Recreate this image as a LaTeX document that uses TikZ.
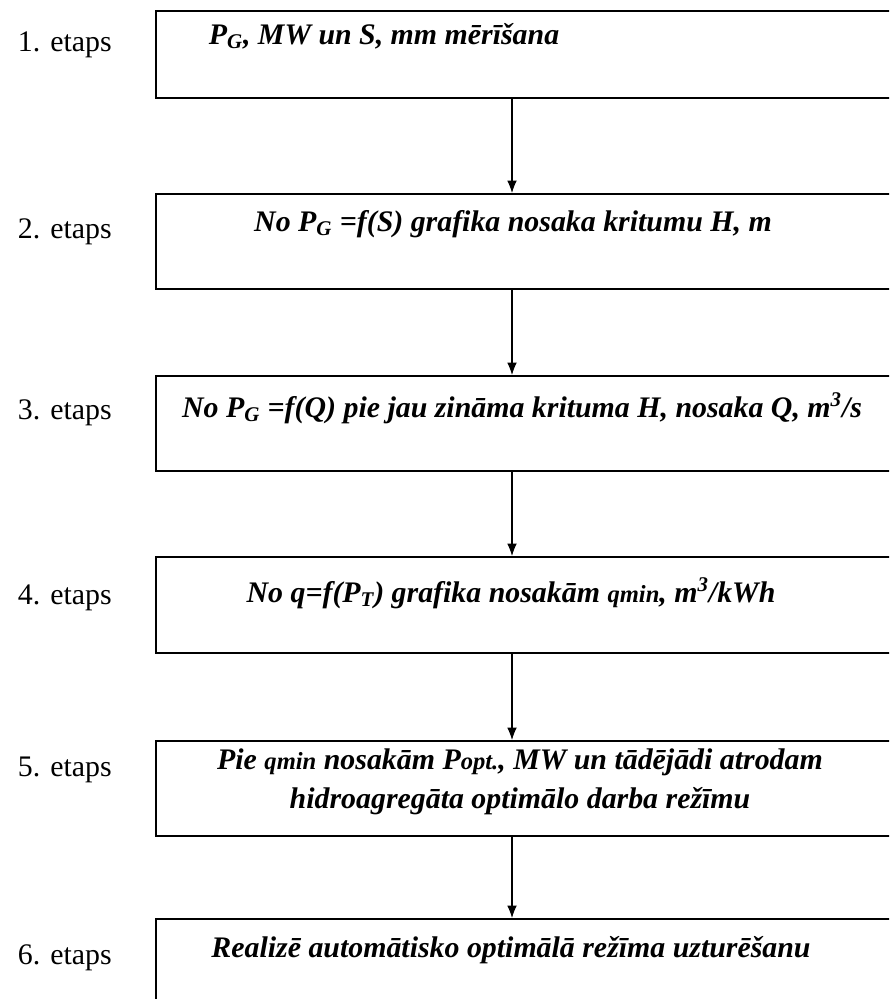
\documentclass[tikz,border=0pt]{standalone}
\usepackage{fontspec}
\setmainfont{Liberation Serif}
\usetikzlibrary{arrows.meta}

\newcommand{\minitext}[1]{{\fontsize{14}{17}\selectfont #1}}

\tikzset{
	stage/.style={draw, line width=1.1pt, anchor=north west, minimum width=15cm, inner sep=0pt},
	stagetext/.style={font=\fontsize{17}{22}\selectfont\bfseries\itshape, align=center, inner sep=0pt},
	steplabel/.style={font=\fontsize{17}{21}\selectfont, anchor=east, inner sep=0pt},
	flow/.style={line width=0.6pt, -{Latex[length=7pt,width=5.5pt]}}
}

\begin{document}
\begin{tikzpicture}[x=0.02cm, y=-0.02cm]
		\useasboundingbox (0, 0) rectangle (889, 999);
		\clip (0, 0) rectangle (889, 999);

		% axe des fleches
		\coordinate (axis) at (512, 0);

		% 1. etaps
		\node[stage, minimum height=1.74cm] (b1) at (155, 10) {};
		\node[stagetext] (t1) at (384, 36) {P\textsubscript{G}, MW un S, mm mērīšana};
		\node[steplabel] (l1) at (112, 45) {1. etaps};

		% 2. etaps
		\node[stage, minimum height=1.9cm] (b2) at (155, 193) {};
		\node[stagetext] (t2) at (513, 224) {No P\textsubscript{G} =f(S) grafika nosaka kritumu H, m};
		\node[steplabel] (l2) at (112, 232) {2. etaps};

		% 3. etaps
		\node[stage, minimum height=1.9cm] (b3) at (155, 375) {};
		\node[stagetext] (t3) at (522, 408) {No P\textsubscript{G} =f(Q) pie jau zināma krituma H, nosaka Q, m\textsuperscript{3}/s};
		\node[steplabel] (l3) at (112, 413) {3. etaps};

		% 4. etaps
		\node[stage, minimum height=1.92cm] (b4) at (155, 556) {};
		\node[stagetext] (t4) at (511, 593) {No q=f(P\textsubscript{T}) grafika nosakām \minitext{qmin}, m\textsuperscript{3}/kWh};
		\node[steplabel] (l4) at (112, 598) {4. etaps};

		% 5. etaps
		\node[stage, minimum height=1.9cm] (b5) at (155, 740) {};
		\node[stagetext] (t5) at (520, 782) {Pie \minitext{qmin} nosakām P\minitext{opt.}, MW un tādējādi atrodam\\hidroagregāta optimālo darba režīmu};
		\node[steplabel] (l5) at (112, 770) {5. etaps};

		% 6. etaps
		\node[stage, minimum height=2cm] (b6) at (155, 918) {};
		\node[stagetext] (t6) at (511, 950) {Realizē automātisko optimālā režīma uzturēšanu};
		\node[steplabel] (l6) at (112, 958) {6. etaps};

		% fleches
		\draw[flow] (b1.south -| axis) -- (b2.north -| axis);
		\draw[flow] (b2.south -| axis) -- (b3.north -| axis);
		\draw[flow] (b3.south -| axis) -- (b4.north -| axis);
		\draw[flow] (b4.south -| axis) -- (b5.north -| axis);
		\draw[flow] (b5.south -| axis) -- (b6.north -| axis);

\end{tikzpicture}
\end{document}
